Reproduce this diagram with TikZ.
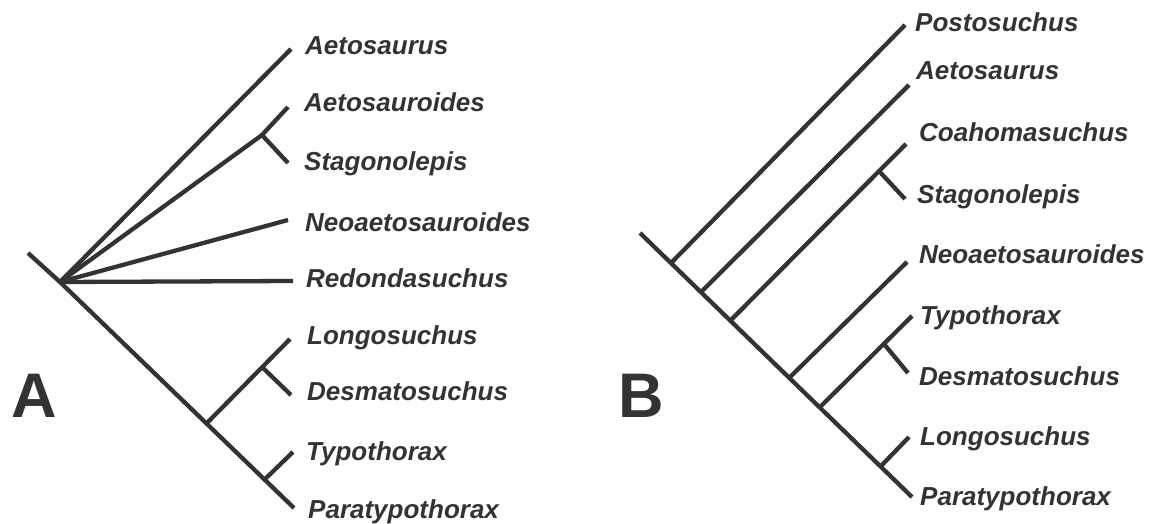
\documentclass[tikz,border=0pt]{standalone}
\usepackage{fontspec}
\setmainfont{Liberation Sans}
\usepackage{tikz}
\usetikzlibrary{calc}
\usepackage{xcolor}
\definecolor{ink}{HTML}{333333}
\newcommand{\taxfont}{\fontsize{26}{30}\selectfont\bfseries\itshape}
\newcommand{\panelfont}{\fontsize{63}{70}\selectfont\bfseries}

\begin{document}
\begin{tikzpicture}[x=1pt, y=-1pt,
    branch/.style={line width=4.3pt, draw=ink},
    taxon/.style={anchor=base west, inner sep=0pt, font=\taxfont, text=ink},
    panel/.style={anchor=base west, inner sep=0pt, font=\panelfont, text=ink}]
  \useasboundingbox (0,0) rectangle (1153,524);

  % ---- panel A: polytomy at the base
  \coordinate (stubA) at (28,253);
  \coordinate (rootA) at (60,282);
  \foreach \nm/\x/\y in {tAeto/291/49, tAetoides/288/107, tStag/288/163,
                         tNeo/288/220, tRedo/293/281, tLongo/290/339,
                         tDesm/291/395, tTypo/293/452, tPara/294/508}{
    \coordinate (A\nm) at (\x,\y);
  }
  \coordinate (Anode1) at (262,135);
  \coordinate (Anode2) at ($(rootA)!(207,423)!(AtPara)$);
  \coordinate (Anode3) at ($(Anode2)!(263,368)!(AtLongo)$);
  \coordinate (Anode4) at ($(rootA)!(267,477)!(AtPara)$);

  \draw[branch] (stubA) -- (rootA) -- (AtPara);
  \draw[branch] (rootA) -- (AtAeto);
  \draw[branch] (rootA) -- (Anode1) -- (AtAetoides);
  \draw[branch] (Anode1) -- (AtStag);
  \draw[branch] (rootA) -- (AtNeo);
  \draw[branch] (rootA) -- (AtRedo);
  \draw[branch] (Anode2) -- (AtLongo);
  \draw[branch] (Anode3) -- (AtDesm);
  \draw[branch] (Anode4) -- (AtTypo);

  \foreach \nm/\x/\y/\txt in {aetoA/305/55/Aetosaurus, aetoidesA/304/112/Aetosauroides,
                              stagA/304/170/Stagonolepis, neoA/305/231/Neoaetosauroides,
                              redoA/306/287/Redondasuchus, longoA/307/344/Longosuchus,
                              desmA/307/400/Desmatosuchus, typoA/306/460/Typothorax,
                              paraA/308/518/Paratypothorax}{
    \node[taxon] (\nm) at (\x,\y) {\txt};
  }
  \node[panel] (labA) at (11,417) {A};

  % ---- panel B: fully resolved
  \coordinate (stubB) at (640,233);
  \foreach \nm/\x/\y in {tPost/905/25, tAeto/909/85, tCoah/906/144, tStag/905/199,
                         tNeo/907/262, tTypo/912/316, tDesm/908/373,
                         tLongo/909/437, tPara/912/497}{
    \coordinate (B\nm) at (\x,\y);
  }
  \coordinate (Bj1) at ($(stubB)!(672,262)!(BtPara)$);
  \coordinate (Bj2) at ($(stubB)!(702,291)!(BtPara)$);
  \coordinate (Bj3) at ($(stubB)!(732,319)!(BtPara)$);
  \coordinate (Bj4) at ($(stubB)!(792,375)!(BtPara)$);
  \coordinate (Bj5) at ($(stubB)!(822,405)!(BtPara)$);
  \coordinate (Bj6) at ($(stubB)!(884,463)!(BtPara)$);
  \coordinate (Bnode3) at ($(Bj3)!(880,172)!(BtCoah)$);
  \coordinate (Bnode5) at ($(Bj5)!(885,345)!(BtTypo)$);

  \draw[branch] (stubB) -- (BtPara);
  \draw[branch] (Bj1) -- (BtPost);
  \draw[branch] (Bj2) -- (BtAeto);
  \draw[branch] (Bj3) -- (BtCoah);
  \draw[branch] (Bnode3) -- (BtStag);
  \draw[branch] (Bj4) -- (BtNeo);
  \draw[branch] (Bj5) -- (BtTypo);
  \draw[branch] (Bnode5) -- (BtDesm);
  \draw[branch] (Bj6) -- (BtLongo);

  \foreach \nm/\x/\y/\txt in {postB/915/32/Postosuchus, aetoB/916/80/Aetosaurus,
                              coahB/919/142/Coahomasuchus, stagB/917/203/Stagonolepis,
                              neoB/919/263/Neoaetosauroides, typoB/920/324/Typothorax,
                              desmB/919/385/Desmatosuchus, longoB/920/445/Longosuchus,
                              paraB/920/505/Paratypothorax}{
    \node[taxon] (\nm) at (\x,\y) {\txt};
  }
  \node[panel] (labB) at (618,417) {B};
\end{tikzpicture}
\end{document}
